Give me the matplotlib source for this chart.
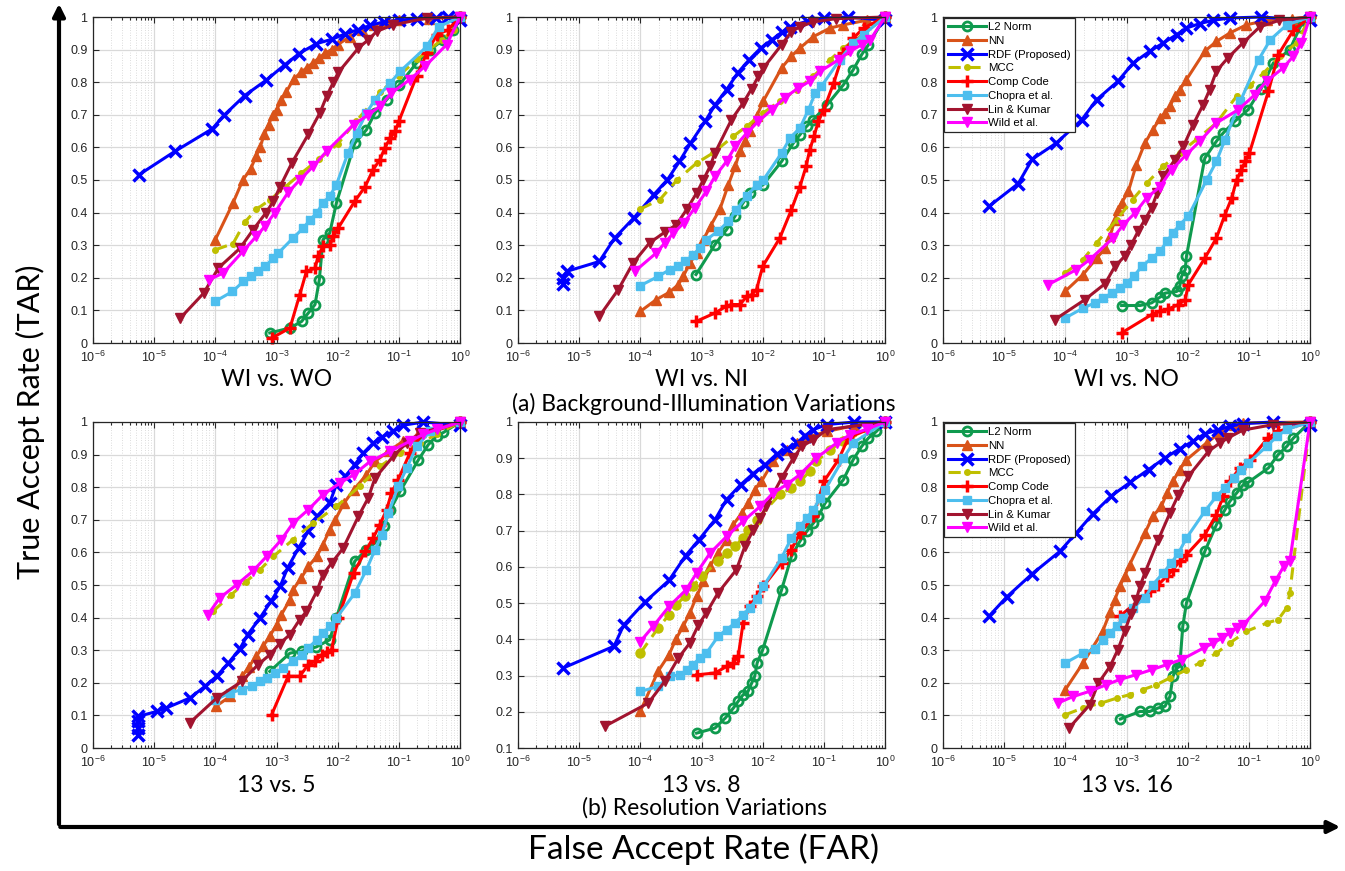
import numpy as np
import matplotlib
matplotlib.use("Agg")
import matplotlib.pyplot as plt
from matplotlib.patches import FancyArrowPatch
from matplotlib.ticker import FixedLocator, FixedFormatter, LogLocator, NullFormatter

# ---------------- data (x values are log10(FAR), y values are TAR) ----------------
methods = ["L2 Norm", "NN", "RDF (Proposed)", "MCC", "Comp Code", "Chopra et al.", "Lin & Kumar", "Wild et al."]
panel_titles = ["WI vs. WO", "WI vs. NI", "WI vs. NO", "13 vs. 5", "13 vs. 8", "13 vs. 16"]
group_titles = ["(a) Background-Illumination Variations", "(b) Resolution Variations"]
y_ticks_full = [0, 0.1, 0.2, 0.3, 0.4, 0.5, 0.6, 0.7, 0.8, 0.9, 1]
y_ticks_r8 = [0.1, 0.2, 0.3, 0.4, 0.5, 0.6, 0.7, 0.8, 0.9, 1]
x_tick_exps = [-6, -5, -4, -3, -2, -1, 0]

# ---- WI vs. WO ----
wo_l2_x = [-3.11, -2.78, -2.59, -2.48, -2.37, -2.30, -2.24, -2.13, -2.02, -1.72, -1.53, -1.39, -1.2, -1.0, -0.71, -0.49, -0.27, -0.12, 0]
wo_l2_y = [0.031, 0.046, 0.066, 0.092, 0.118, 0.194, 0.317, 0.337, 0.43, 0.613, 0.654, 0.706, 0.746, 0.79, 0.859, 0.90, 0.93, 0.96, 1.0]
wo_nn_x = [-4.0, -3.71, -3.55, -3.42, -3.33, -3.27, -3.2, -3.13, -3.06, -3.0, -2.92, -2.84, -2.72, -2.6, -2.5, -2.4, -2.3, -2.2, -2.1, -2.0, -1.8, -1.6, -1.4, -1.2, -1.0, -0.5, 0]
wo_nn_y = [0.317, 0.43, 0.50, 0.535, 0.575, 0.60, 0.64, 0.67, 0.70, 0.715, 0.745, 0.77, 0.81, 0.83, 0.845, 0.86, 0.875, 0.89, 0.90, 0.915, 0.94, 0.96, 0.975, 0.985, 0.99, 0.995, 1.0]
wo_rdf_x = [-5.25, -4.66, -4.05, -3.86, -3.52, -3.17, -2.86, -2.63, -2.35, -2.09, -1.88, -1.67, -1.47, -1.25, -1.0, -0.7, -0.4, -0.2, 0]
wo_rdf_y = [0.516, 0.588, 0.657, 0.698, 0.759, 0.806, 0.854, 0.888, 0.918, 0.932, 0.948, 0.961, 0.974, 0.985, 0.99, 0.995, 0.998, 1.0, 0.99]
wo_mcc_x = [-4.0, -3.71, -3.52, -3.33, -3.1, -2.85, -2.6, -2.3, -2.0, -1.7, -1.4, -1.3, -1.0, -0.7, -0.5, -0.3, -0.1, 0]
wo_mcc_y = [0.286, 0.305, 0.37, 0.41, 0.44, 0.48, 0.52, 0.565, 0.61, 0.68, 0.745, 0.77, 0.82, 0.87, 0.9, 0.93, 0.96, 1.0]
wo_cc_x = [-3.08, -2.78, -2.62, -2.51, -2.37, -2.32, -2.24, -2.13, -2.07, -1.99, -1.72, -1.55, -1.42, -1.31, -1.23, -1.14, -1.06, -1.0, -0.71, -0.54, -0.38, -0.2, 0]
wo_cc_y = [0.015, 0.046, 0.148, 0.22, 0.23, 0.266, 0.297, 0.30, 0.327, 0.353, 0.435, 0.48, 0.532, 0.562, 0.598, 0.629, 0.649, 0.68, 0.818, 0.89, 0.946, 0.96, 1.0]
wo_chopra_x = [-4.0, -3.72, -3.54, -3.41, -3.3, -3.19, -3.05, -2.97, -2.73, -2.56, -2.45, -2.34, -2.24, -2.13, -2.02, -1.83, -1.69, -1.53, -1.39, -1.14, -0.98, -0.54, -0.35, 0]
wo_chopra_y = [0.128, 0.158, 0.189, 0.204, 0.22, 0.235, 0.26, 0.276, 0.322, 0.353, 0.378, 0.399, 0.43, 0.45, 0.486, 0.583, 0.644, 0.706, 0.746, 0.798, 0.833, 0.91, 0.97, 1.0]
wo_lin_x = [-4.57, -4.19, -3.95, -3.6, -3.38, -3.17, -3.05, -2.94, -2.75, -2.48, -2.29, -2.18, -2.07, -1.99, -1.66, -1.5, -1.36, -1.09, -0.54, 0]
wo_lin_y = [0.077, 0.153, 0.23, 0.29, 0.348, 0.40, 0.435, 0.48, 0.552, 0.64, 0.706, 0.757, 0.80, 0.83, 0.905, 0.93, 0.956, 0.976, 0.997, 1.0]
wo_wild_x = [-4.1, -3.87, -3.55, -3.33, -3.19, -3.03, -2.81, -2.62, -2.4, -2.18, -1.74, -1.5, -1.31, -1.12, -0.82, -0.57, -0.22, 0]
wo_wild_y = [0.194, 0.215, 0.281, 0.327, 0.358, 0.399, 0.462, 0.50, 0.542, 0.588, 0.67, 0.70, 0.726, 0.767, 0.808, 0.849, 0.915, 1.0]

# ---- WI vs. NI ----
ni_l2_x = [-3.09, -2.78, -2.59, -2.45, -2.32, -2.21, -1.99, -1.69, -1.5, -1.39, -1.28, -1.17, -0.95, -0.68, -0.52, -0.38, -0.27, 0]
ni_l2_y = [0.21, 0.302, 0.348, 0.39, 0.43, 0.46, 0.486, 0.557, 0.613, 0.639, 0.665, 0.685, 0.73, 0.792, 0.838, 0.885, 0.915, 1.0]
ni_nn_x = [-4.0, -3.74, -3.53, -3.38, -3.3, -3.19, -3.08, -2.97, -2.85, -2.7, -2.56, -2.45, -2.37, -2.29, -2.21, -2.1, -1.99, -1.69, -1.53, -1.39, -1.17, -0.9, -0.68, -0.3, 0]
ni_nn_y = [0.097, 0.133, 0.155, 0.179, 0.204, 0.245, 0.276, 0.317, 0.36, 0.41, 0.486, 0.542, 0.588, 0.619, 0.649, 0.695, 0.742, 0.844, 0.88, 0.905, 0.94, 0.966, 0.976, 0.99, 1.0]
ni_rdf_x = [-5.26, -5.26, -5.2, -4.67, -4.42, -4.11, -3.78, -3.56, -3.36, -3.18, -2.94, -2.78, -2.59, -2.41, -2.22, -2.03, -1.85, -1.69, -1.55, -1.28, -1.0, -0.6, 0]
ni_rdf_y = [0.18, 0.2, 0.22, 0.25, 0.322, 0.383, 0.455, 0.50, 0.557, 0.613, 0.68, 0.73, 0.777, 0.828, 0.869, 0.905, 0.93, 0.953, 0.97, 0.987, 0.997, 1.0, 0.99]
ni_mcc_x = [-4.0, -3.68, -3.4, -3.08, -2.81, -2.48, -2.26, -1.99, -1.72, -1.44, -1.17, -0.9, -0.68, -0.4, 0]
ni_mcc_y = [0.411, 0.44, 0.5, 0.552, 0.583, 0.634, 0.665, 0.706, 0.742, 0.777, 0.818, 0.869, 0.905, 0.94, 1.0]
ni_cc_x = [-3.09, -2.78, -2.6, -2.51, -2.37, -2.26, -2.18, -2.1, -2.0, -1.72, -1.53, -1.39, -1.29, -1.23, -1.16, -1.09, -1.0, -0.84, -0.68, -0.52, -0.35, 0]
ni_cc_y = [0.066, 0.092, 0.112, 0.118, 0.118, 0.143, 0.148, 0.164, 0.235, 0.322, 0.409, 0.48, 0.542, 0.593, 0.634, 0.68, 0.716, 0.797, 0.89, 0.935, 0.966, 1.0]
ni_chopra_x = [-4.0, -3.71, -3.52, -3.38, -3.27, -3.14, -3.03, -2.92, -2.73, -2.56, -2.43, -2.26, -2.1, -1.99, -1.69, -1.55, -1.39, -1.25, -1.14, -1.04, -0.74, -0.52, -0.35, 0]
ni_chopra_y = [0.176, 0.204, 0.225, 0.235, 0.25, 0.27, 0.29, 0.317, 0.343, 0.373, 0.409, 0.45, 0.486, 0.50, 0.583, 0.629, 0.66, 0.716, 0.767, 0.787, 0.869, 0.92, 0.946, 1.0]
ni_lin_x = [-4.67, -4.36, -4.12, -3.85, -3.6, -3.41, -3.24, -3.08, -2.97, -2.86, -2.78, -2.51, -2.32, -2.18, -2.07, -1.99, -1.69, -1.53, -1.39, -1.17, -0.8, 0]
ni_lin_y = [0.082, 0.164, 0.245, 0.307, 0.34, 0.363, 0.41, 0.46, 0.50, 0.542, 0.583, 0.685, 0.736, 0.78, 0.818, 0.843, 0.915, 0.955, 0.97, 0.985, 0.995, 1.0]
ni_wild_x = [-4.09, -3.74, -3.6, -3.46, -3.29, -3.11, -2.92, -2.78, -2.59, -2.45, -2.26, -2.07, -1.85, -1.64, -1.42, -1.23, -1.06, -0.76, -0.57, -0.38, -0.24, 0]
ni_wild_y = [0.22, 0.276, 0.307, 0.337, 0.368, 0.414, 0.465, 0.511, 0.557, 0.603, 0.644, 0.68, 0.716, 0.752, 0.782, 0.803, 0.833, 0.869, 0.895, 0.915, 0.93, 1.0]

# ---- WI vs. NO ----
no_l2_x = [-3.08, -2.78, -2.59, -2.45, -2.37, -2.18, -2.13, -2.1, -2.04, -2.02, -1.72, -1.53, -1.42, -1.23, -1.01, -0.8, -0.6, -0.33, -0.16, 0]
no_l2_y = [0.115, 0.115, 0.123, 0.141, 0.153, 0.158, 0.174, 0.204, 0.225, 0.266, 0.567, 0.619, 0.644, 0.68, 0.716, 0.78, 0.859, 0.90, 0.97, 1.0]
no_nn_x = [-4.0, -3.71, -3.49, -3.35, -3.27, -3.19, -3.14, -3.08, -2.97, -2.84, -2.7, -2.57, -2.45, -2.37, -2.29, -2.21, -2.13, -2.02, -1.72, -1.53, -1.31, -1.04, -0.7, -0.3, 0]
no_nn_y = [0.159, 0.21, 0.26, 0.29, 0.327, 0.378, 0.409, 0.43, 0.465, 0.547, 0.613, 0.654, 0.69, 0.706, 0.726, 0.757, 0.777, 0.808, 0.895, 0.925, 0.951, 0.976, 0.99, 0.995, 1.0]
no_rdf_x = [-5.25, -4.77, -4.54, -4.15, -3.73, -3.49, -3.14, -2.89, -2.62, -2.4, -2.18, -2.02, -1.8, -1.58, -1.31, -0.8, 0]
no_rdf_y = [0.419, 0.489, 0.564, 0.613, 0.685, 0.746, 0.803, 0.859, 0.895, 0.92, 0.946, 0.966, 0.98, 0.99, 0.997, 1.0, 0.99]
no_mcc_x = [-4.0, -3.71, -3.49, -3.16, -2.9, -2.67, -2.4, -2.13, -1.85, -1.53, -1.2, -0.98, -0.76, -0.49, -0.22, 0]
no_mcc_y = [0.215, 0.256, 0.307, 0.378, 0.44, 0.49, 0.542, 0.583, 0.625, 0.675, 0.757, 0.79, 0.828, 0.88, 0.92, 1.0]
no_cc_x = [-3.08, -2.59, -2.45, -2.32, -2.15, -2.04, -1.99, -1.72, -1.53, -1.39, -1.28, -1.2, -1.12, -1.06, -0.99, -0.68, -0.52, -0.27, 0]
no_cc_y = [0.031, 0.087, 0.097, 0.104, 0.118, 0.133, 0.179, 0.26, 0.322, 0.394, 0.445, 0.50, 0.532, 0.557, 0.583, 0.772, 0.884, 0.96, 1.0]
no_chopra_x = [-4.0, -3.71, -3.52, -3.38, -3.24, -3.11, -3.0, -2.88, -2.75, -2.59, -2.45, -2.34, -2.24, -2.13, -1.99, -1.69, -1.53, -1.39, -1.14, -0.84, -0.65, -0.38, 0]
no_chopra_y = [0.077, 0.107, 0.123, 0.138, 0.153, 0.169, 0.184, 0.205, 0.235, 0.26, 0.281, 0.312, 0.337, 0.363, 0.389, 0.50, 0.557, 0.624, 0.741, 0.869, 0.93, 0.976, 1.0]
no_lin_x = [-4.17, -3.68, -3.35, -3.19, -3.03, -2.92, -2.81, -2.7, -2.59, -2.5, -2.4, -2.21, -2.07, -1.91, -1.75, -1.64, -1.53, -1.34, -1.1, -0.82, -0.5, 0]
no_lin_y = [0.072, 0.133, 0.182, 0.235, 0.266, 0.302, 0.343, 0.378, 0.414, 0.46, 0.511, 0.562, 0.603, 0.67, 0.73, 0.777, 0.834, 0.875, 0.92, 0.97, 0.99, 1.0]
no_wild_x = [-4.28, -3.82, -3.6, -3.22, -3.05, -2.86, -2.67, -2.45, -2.26, -2.02, -1.8, -1.53, -1.17, -0.9, -0.71, -0.44, -0.27, -0.14, 0]
no_wild_y = [0.179, 0.225, 0.256, 0.322, 0.363, 0.399, 0.445, 0.48, 0.532, 0.578, 0.619, 0.675, 0.716, 0.762, 0.803, 0.844, 0.88, 0.92, 1.0]

# ---- 13 vs. 5 ----
r5_l2_x = [-3.11, -2.78, -2.59, -2.35, -2.13, -2.02, -1.72, -1.53, -1.39, -1.25, -1.14, -0.98, -0.68, -0.52, -0.38, -0.27, 0]
r5_l2_y = [0.235, 0.291, 0.297, 0.31, 0.332, 0.40, 0.573, 0.608, 0.629, 0.68, 0.731, 0.787, 0.884, 0.93, 0.958, 0.968, 1.0]
r5_nn_x = [-3.99, -3.76, -3.56, -3.45, -3.33, -3.22, -3.11, -3.0, -2.92, -2.78, -2.73, -2.6, -2.48, -2.34, -2.24, -2.13, -2.04, -1.9, -1.74, -1.53, -1.39, -1.17, -0.93, -0.71, 0]
r5_nn_y = [0.128, 0.158, 0.22, 0.25, 0.281, 0.312, 0.343, 0.378, 0.409, 0.455, 0.486, 0.52, 0.557, 0.588, 0.624, 0.67, 0.70, 0.75, 0.792, 0.838, 0.879, 0.91, 0.941, 0.956, 1.0]
r5_rdf_x = [-5.26, -5.26, -5.26, -5.26, -4.96, -4.8, -4.42, -4.17, -3.98, -3.79, -3.6, -3.47, -3.27, -3.09, -2.94, -2.82, -2.64, -2.48, -2.34, -2.13, -2.02, -1.88, -1.72, -1.58, -1.42, -1.28, -1.09, -0.93, -0.6, 0]
r5_rdf_y = [0.041, 0.061, 0.082, 0.097, 0.112, 0.123, 0.153, 0.189, 0.22, 0.26, 0.304, 0.348, 0.399, 0.45, 0.496, 0.552, 0.613, 0.665, 0.711, 0.752, 0.808, 0.833, 0.869, 0.905, 0.935, 0.954, 0.971, 0.99, 1.0, 0.99]
r5_mcc_x = [-4.04, -3.74, -3.5, -3.27, -3.05, -2.73, -2.4, -2.02, -1.64, -1.31, -0.98, -0.65, -0.38, 0]
r5_mcc_y = [0.419, 0.47, 0.51, 0.547, 0.588, 0.639, 0.69, 0.741, 0.803, 0.864, 0.905, 0.936, 0.962, 1.0]
r5_cc_x = [-3.08, -2.81, -2.62, -2.48, -2.37, -2.26, -2.18, -2.1, -1.99, -1.74, -1.55, -1.42, -1.31, -1.2, -1.12, -1.01, -0.82, -0.65, 0]
r5_cc_y = [0.102, 0.22, 0.22, 0.256, 0.266, 0.286, 0.295, 0.302, 0.399, 0.537, 0.603, 0.644, 0.685, 0.731, 0.782, 0.823, 0.905, 0.956, 1.0]
r5_chopra_x = [-4.0, -3.76, -3.57, -3.4, -3.27, -3.16, -3.03, -2.89, -2.73, -2.59, -2.48, -2.34, -2.24, -2.13, -2.02, -1.72, -1.53, -1.39, -1.28, -1.17, -1.01, -0.87, -0.71, -0.49, 0]
r5_chopra_y = [0.148, 0.169, 0.179, 0.19, 0.204, 0.215, 0.23, 0.245, 0.266, 0.286, 0.307, 0.332, 0.353, 0.373, 0.399, 0.475, 0.547, 0.608, 0.654, 0.721, 0.803, 0.859, 0.925, 0.971, 1.0]
r5_lin_x = [-4.42, -3.98, -3.57, -3.3, -3.11, -2.95, -2.78, -2.62, -2.51, -2.34, -2.24, -2.1, -1.91, -1.66, -1.5, -1.39, -1.09, -0.87, -0.65, 0]
r5_lin_y = [0.077, 0.153, 0.204, 0.256, 0.286, 0.32, 0.348, 0.394, 0.419, 0.481, 0.532, 0.567, 0.613, 0.711, 0.767, 0.828, 0.895, 0.936, 0.966, 1.0]
r5_wild_x = [-4.12, -3.93, -3.65, -3.39, -3.16, -2.92, -2.73, -2.48, -2.24, -1.96, -1.74, -1.47, -1.14, -0.82, -0.6, -0.38, 0]
r5_wild_y = [0.409, 0.46, 0.501, 0.542, 0.588, 0.639, 0.69, 0.731, 0.777, 0.813, 0.838, 0.879, 0.91, 0.941, 0.962, 0.977, 1.0]

# ---- 13 vs. 8 ----
r8_l2_x = [-3.08, -2.78, -2.61, -2.48, -2.4, -2.32, -2.24, -2.18, -2.13, -2.09, -2.0, -1.69, -1.53, -1.39, -1.28, -1.17, -1.09, -0.98, -0.68, -0.52, -0.38, -0.27, -0.14, 0]
r8_l2_y = [0.141, 0.155, 0.183, 0.21, 0.229, 0.247, 0.256, 0.279, 0.298, 0.335, 0.371, 0.537, 0.629, 0.671, 0.698, 0.721, 0.74, 0.776, 0.841, 0.896, 0.933, 0.956, 0.974, 1.0]
r8_nn_x = [-4.0, -3.71, -3.53, -3.42, -3.3, -3.19, -3.08, -2.97, -2.86, -2.73, -2.59, -2.48, -2.34, -2.24, -2.13, -2.02, -1.83, -1.61, -1.44, -1.23, -0.95, -0.5, 0]
r8_nn_y = [0.201, 0.312, 0.358, 0.4, 0.436, 0.473, 0.519, 0.56, 0.602, 0.638, 0.675, 0.717, 0.749, 0.776, 0.813, 0.836, 0.891, 0.924, 0.942, 0.96, 0.974, 0.99, 1.0]
r8_rdf_x = [-5.26, -4.43, -4.27, -3.93, -3.53, -3.26, -3.04, -2.78, -2.59, -2.36, -2.16, -1.96, -1.77, -1.6, -1.44, -1.31, -1.17, -0.95, -0.5, 0]
r8_rdf_y = [0.321, 0.381, 0.44, 0.502, 0.563, 0.631, 0.675, 0.73, 0.786, 0.827, 0.857, 0.882, 0.912, 0.925, 0.942, 0.962, 0.979, 0.993, 1.0, 1.0]
r8_mcc_x = [-4.0, -3.71, -3.53, -3.41, -3.27, -3.14, -3.0, -2.73, -2.59, -2.45, -2.32, -2.24, -2.1, -1.72, -1.53, -1.39, -1.23, -1.12, -0.9, -0.68, 0]
r8_mcc_y = [0.362, 0.431, 0.468, 0.496, 0.519, 0.546, 0.574, 0.615, 0.638, 0.657, 0.68, 0.703, 0.73, 0.8, 0.818, 0.836, 0.864, 0.891, 0.924, 0.947, 1.0]
r8_cc_x = [-3.08, -2.78, -2.59, -2.48, -2.4, -2.32, -2.21, -2.1, -1.99, -1.69, -1.53, -1.39, -1.17, -1.0, -0.76, -0.6, 0]
r8_cc_y = [0.302, 0.307, 0.325, 0.335, 0.353, 0.445, 0.491, 0.519, 0.546, 0.611, 0.648, 0.694, 0.74, 0.836, 0.896, 0.956, 1.0]
r8_chopra_x = [-4.0, -3.71, -3.52, -3.35, -3.24, -3.14, -3.03, -2.92, -2.73, -2.59, -2.45, -2.32, -2.21, -2.1, -1.99, -1.69, -1.53, -1.39, -1.28, -1.17, -1.06, -0.98, -0.68, -0.52, 0]
r8_chopra_y = [0.256, 0.27, 0.298, 0.302, 0.316, 0.33, 0.348, 0.362, 0.408, 0.427, 0.445, 0.468, 0.487, 0.51, 0.546, 0.625, 0.68, 0.712, 0.735, 0.758, 0.79, 0.813, 0.9, 0.942, 1.0]
r8_lin_x = [-4.58, -3.87, -3.6, -3.38, -3.19, -3.05, -2.92, -2.73, -2.43, -2.29, -2.15, -2.04, -1.94, -1.69, -1.5, -1.36, -1.17, -0.95, 0]
r8_lin_y = [0.16, 0.224, 0.284, 0.348, 0.39, 0.44, 0.473, 0.528, 0.592, 0.657, 0.703, 0.735, 0.767, 0.845, 0.9, 0.933, 0.951, 0.979, 1.0]
r8_wild_x = [-4.0, -3.79, -3.53, -3.25, -3.08, -2.86, -2.59, -2.32, -2.04, -1.83, -1.61, -1.39, -1.12, -0.79, -0.57, -0.3, 0]
r8_wild_y = [0.394, 0.436, 0.491, 0.537, 0.583, 0.638, 0.684, 0.726, 0.767, 0.804, 0.827, 0.855, 0.901, 0.942, 0.965, 0.98, 1.0]

# ---- 13 vs. 16 ----
r16_l2_x = [-3.1, -2.78, -2.62, -2.48, -2.37, -2.29, -2.24, -2.18, -2.13, -2.08, -2.02, -1.72, -1.53, -1.39, -1.31, -1.2, -1.09, -1.01, -0.68, -0.52, -0.38, -0.27, 0]
r16_l2_y = [0.089, 0.112, 0.112, 0.123, 0.128, 0.158, 0.22, 0.245, 0.25, 0.373, 0.445, 0.603, 0.685, 0.731, 0.757, 0.782, 0.808, 0.815, 0.859, 0.9, 0.925, 0.951, 1.0]
r16_nn_x = [-4.0, -3.71, -3.39, -3.27, -3.19, -3.11, -3.03, -2.95, -2.7, -2.57, -2.43, -2.34, -2.24, -2.13, -2.02, -1.69, -1.45, -1.25, -1.09, 0]
r16_nn_y = [0.179, 0.261, 0.358, 0.416, 0.455, 0.496, 0.527, 0.562, 0.659, 0.711, 0.741, 0.782, 0.818, 0.854, 0.884, 0.936, 0.97, 0.992, 0.997, 1.0]
r16_rdf_x = [-5.25, -4.96, -4.55, -4.09, -3.82, -3.55, -3.25, -2.94, -2.64, -2.37, -2.13, -1.91, -1.72, -1.5, -1.3, -1.09, -0.6, 0]
r16_rdf_y = [0.404, 0.463, 0.533, 0.603, 0.66, 0.718, 0.773, 0.815, 0.854, 0.89, 0.918, 0.941, 0.964, 0.976, 0.987, 0.995, 1.0, 0.99]
r16_mcc_x = [-4.0, -3.71, -3.41, -3.16, -2.94, -2.73, -2.51, -2.29, -2.02, -1.8, -1.53, -1.31, -1.04, -0.71, -0.52, -0.38, -0.33, 0]
r16_mcc_y = [0.102, 0.123, 0.138, 0.153, 0.164, 0.179, 0.194, 0.215, 0.24, 0.261, 0.291, 0.322, 0.358, 0.383, 0.394, 0.43, 0.475, 1.0]
r16_cc_x = [-3.11, -2.62, -2.48, -2.34, -2.24, -2.13, -2.02, -1.72, -1.53, -1.42, -1.3, -1.15, -0.98, -0.69, -0.52, 0]
r16_cc_y = [0.404, 0.481, 0.501, 0.527, 0.547, 0.573, 0.593, 0.654, 0.716, 0.772, 0.82, 0.859, 0.884, 0.951, 0.971, 1.0]
r16_chopra_x = [-4.0, -3.71, -3.52, -3.38, -3.27, -3.16, -3.05, -2.9, -2.7, -2.57, -2.4, -2.27, -2.15, -2.02, -1.72, -1.53, -1.39, -1.25, -1.12, -1.01, -0.71, -0.54, -0.38, 0]
r16_chopra_y = [0.261, 0.291, 0.304, 0.332, 0.353, 0.373, 0.399, 0.43, 0.46, 0.501, 0.537, 0.567, 0.598, 0.644, 0.726, 0.772, 0.798, 0.828, 0.854, 0.874, 0.925, 0.956, 0.977, 1.0]
r16_lin_x = [-3.94, -3.6, -3.46, -3.27, -3.14, -3.03, -2.93, -2.84, -2.78, -2.7, -2.48, -2.29, -2.15, -1.99, -1.66, -1.47, -1.34, -1.1, -0.6, 0]
r16_lin_y = [0.061, 0.133, 0.199, 0.25, 0.302, 0.358, 0.41, 0.455, 0.496, 0.537, 0.639, 0.721, 0.777, 0.833, 0.91, 0.936, 0.951, 0.975, 0.992, 1.0]
r16_wild_x = [-4.12, -3.87, -3.6, -3.33, -3.11, -2.84, -2.59, -2.34, -2.1, -1.74, -1.58, -1.44, -1.31, -1.2, -1.09, -0.74, -0.57, -0.43, -0.33, 0]
r16_wild_y = [0.138, 0.158, 0.174, 0.194, 0.21, 0.225, 0.24, 0.256, 0.271, 0.307, 0.322, 0.337, 0.353, 0.368, 0.378, 0.45, 0.511, 0.557, 0.573, 1.0]

panels = [
    [(wo_l2_x, wo_l2_y), (wo_nn_x, wo_nn_y), (wo_rdf_x, wo_rdf_y), (wo_mcc_x, wo_mcc_y),
     (wo_cc_x, wo_cc_y), (wo_chopra_x, wo_chopra_y), (wo_lin_x, wo_lin_y), (wo_wild_x, wo_wild_y)],
    [(ni_l2_x, ni_l2_y), (ni_nn_x, ni_nn_y), (ni_rdf_x, ni_rdf_y), (ni_mcc_x, ni_mcc_y),
     (ni_cc_x, ni_cc_y), (ni_chopra_x, ni_chopra_y), (ni_lin_x, ni_lin_y), (ni_wild_x, ni_wild_y)],
    [(no_l2_x, no_l2_y), (no_nn_x, no_nn_y), (no_rdf_x, no_rdf_y), (no_mcc_x, no_mcc_y),
     (no_cc_x, no_cc_y), (no_chopra_x, no_chopra_y), (no_lin_x, no_lin_y), (no_wild_x, no_wild_y)],
    [(r5_l2_x, r5_l2_y), (r5_nn_x, r5_nn_y), (r5_rdf_x, r5_rdf_y), (r5_mcc_x, r5_mcc_y),
     (r5_cc_x, r5_cc_y), (r5_chopra_x, r5_chopra_y), (r5_lin_x, r5_lin_y), (r5_wild_x, r5_wild_y)],
    [(r8_l2_x, r8_l2_y), (r8_nn_x, r8_nn_y), (r8_rdf_x, r8_rdf_y), (r8_mcc_x, r8_mcc_y),
     (r8_cc_x, r8_cc_y), (r8_chopra_x, r8_chopra_y), (r8_lin_x, r8_lin_y), (r8_wild_x, r8_wild_y)],
    [(r16_l2_x, r16_l2_y), (r16_nn_x, r16_nn_y), (r16_rdf_x, r16_rdf_y), (r16_mcc_x, r16_mcc_y),
     (r16_cc_x, r16_cc_y), (r16_chopra_x, r16_chopra_y), (r16_lin_x, r16_lin_y), (r16_wild_x, r16_wild_y)],
]

# ---------------- styles ----------------
styles = [
    dict(color="#0F9A4E", marker="o", ls="-", ms=6.5, mfc="none", mew=2.0),
    dict(color="#D95319", marker="^", ls="-", ms=7, mew=1.0),
    dict(color="#0000FF", marker="x", ls="-", ms=9, mew=2.5),
    dict(color="#BFBF00", marker=".", ls="--", ms=8, mew=1.0),
    dict(color="#FF0000", marker="+", ls="-", ms=9, mew=2.5),
    dict(color="#4DBEEE", marker="s", ls="-", ms=5.5, mew=1.0),
    dict(color="#A2142F", marker="v", ls="-", ms=7, mew=1.0),
    dict(color="#FF00FF", marker="v", ls="-", ms=7, mew=1.0),
]

W, H = 1345, 871
fig = plt.figure(figsize=(W / 100, H / 100), dpi=100)

def fx(px):
    return px / W

def fy(py):
    return 1 - py / H

lefts = [93, 518, 943]
bottoms = [343, 748]
aw, ah = 367, 326
tick_font = "Liberation Sans"
title_font = "Lato"

for i in range(6):
    r, c = divmod(i, 3)
    ax = fig.add_axes([fx(lefts[c]), fy(bottoms[r]), aw / W, ah / H])
    ax.set_xscale("log")
    for j, (xs, ys) in enumerate(panels[i]):
        st = dict(styles[j])
        if j == 3 and i == 4:
            st["ms"] = 13
        ax.plot(10.0 ** np.array(xs), ys, lw=2.2, label=methods[j], clip_on=False,
                color=st["color"], marker=st["marker"], linestyle=st["ls"], ms=st["ms"],
                mfc=st.get("mfc", st["color"]), mec=st["color"], mew=st["mew"],
                dashes=(4, 2.5) if st["ls"] == "--" else (None, None))
    ax.set_xlim(1e-6, 1)
    yt = y_ticks_r8 if i == 4 else y_ticks_full
    ax.set_ylim(yt[0], 1)
    ax.yaxis.set_major_locator(FixedLocator(yt))
    ax.yaxis.set_major_formatter(FixedFormatter([("%g" % v) for v in yt]))
    ax.xaxis.set_major_locator(FixedLocator([10.0 ** e for e in x_tick_exps]))
    ax.xaxis.set_major_formatter(FixedFormatter([r"$\mathregular{10^{%d}}$" % e for e in x_tick_exps]))
    ax.xaxis.set_minor_locator(LogLocator(base=10, subs=np.arange(2, 10), numticks=20))
    ax.xaxis.set_minor_formatter(NullFormatter())
    ax.grid(True, which="major", color="#d9d9d9", lw=0.9)
    ax.grid(True, which="minor", axis="x", color="#d0d0d0", lw=0.6, ls=(0, (1, 2)))
    ax.set_axisbelow(True)
    ax.tick_params(which="both", direction="in", top=True, right=True, labelsize=9,
                   colors="#262626", width=0.8)
    ax.tick_params(which="major", length=4)
    ax.tick_params(which="minor", length=2.2)
    ax.tick_params(axis="x", pad=5)
    ax.tick_params(axis="y", pad=4)
    for lab in ax.get_xticklabels() + ax.get_yticklabels():
        lab.set_fontfamily(tick_font)
        lab.set_color("#262626")
    for sp in ax.spines.values():
        sp.set_color("#262626")
        sp.set_linewidth(0.9)
    if c == 2:
        leg = ax.legend(loc="upper left", prop={"family": tick_font, "size": 8.2},
                        handlelength=3.3, labelspacing=0.33, borderpad=0.35, handletextpad=0.2,
                        borderaxespad=0.1, fancybox=False, framealpha=1, edgecolor="#262626")
        leg.get_frame().set_linewidth(0.9)
    fig.text(fx(lefts[c] + aw / 2), fy(bottoms[r] + 37), panel_titles[i], ha="center", va="center",
             fontsize=16.5, family=title_font)

fig.text(fx(704), fy(404), group_titles[0], ha="center", va="center", fontsize=16.5, family=title_font)
fig.text(fx(704), fy(808), group_titles[1], ha="center", va="center", fontsize=16.5, family=title_font)

fig.text(fx(704), fy(849), "False Accept Rate (FAR)", ha="center", va="center", fontsize=24, family=title_font)
fig.text(fx(30), fy(422), "True Accept Rate (TAR)", ha="center", va="center", fontsize=22,
         family=title_font, rotation=90)

fig.add_artist(FancyArrowPatch((fx(59), fy(827)), (fx(59), fy(1)), transform=fig.transFigure,
                               arrowstyle="-|>", mutation_scale=18, lw=3, color="black"))
fig.add_artist(FancyArrowPatch((fx(57.5), fy(827)), (fx(1343), fy(827)), transform=fig.transFigure,
                               arrowstyle="-|>", mutation_scale=18, lw=3, color="black"))

fig.savefig("out.png", dpi=100)
